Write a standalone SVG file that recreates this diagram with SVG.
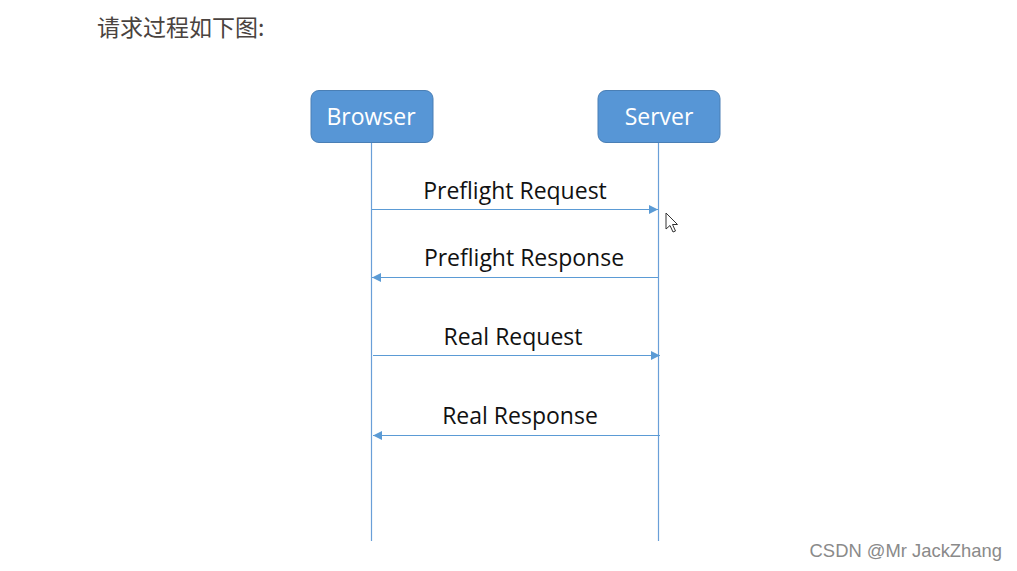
<svg xmlns="http://www.w3.org/2000/svg" width="1017" height="571" viewBox="0 0 1017 571">
<style>
.box{fill:#5796d6;stroke:#4a7fb5;stroke-width:1}
.boxt{font-family:"Open Sans","Noto Sans",sans-serif;font-size:23px;fill:#ffffff;text-anchor:middle}
.life{stroke:#6a9fd8;stroke-width:1.2;fill:none}
.msg{stroke:#5b9bd5;stroke-width:1.2;fill:none}
.lbl{font-family:"Open Sans","Noto Sans",sans-serif;font-size:23px;fill:#111111;text-anchor:middle}
</style>
<defs>
<marker id="ah" viewBox="0 0 10 10" refX="10" refY="5" markerWidth="9" markerHeight="9" markerUnits="userSpaceOnUse" orient="auto">
<path d="M0,0 L10,5 L0,10 z" fill="#5b9bd5"/>
</marker>
</defs>
<rect width="1017" height="571" fill="#ffffff"/>
<text x="97" y="36" font-family="'Noto Sans CJK SC',sans-serif" font-size="23" fill="#4a4340">请求过程如下图:</text>
<g id="browser">
<rect class="box" x="311" y="90.5" width="122" height="52" rx="8"/>
<text class="boxt" x="371" y="125">Browser</text>
</g>
<g id="server">
<rect class="box" x="598" y="90.5" width="122" height="52" rx="8"/>
<text class="boxt" x="659" y="125">Server</text>
</g>
<g id="connectors">
<line class="life" x1="371.5" y1="143" x2="371.5" y2="541"/>
<line class="life" x1="658.5" y1="143" x2="658.5" y2="541"/>
<line class="msg" x1="372" y1="209.5" x2="658" y2="209.5" marker-end="url(#ah)"/>
<line class="msg" x1="658" y1="277.5" x2="372" y2="277.5" marker-end="url(#ah)"/>
<line class="msg" x1="373" y1="355.5" x2="660" y2="355.5" marker-end="url(#ah)"/>
<line class="msg" x1="660" y1="435.5" x2="373" y2="435.5" marker-end="url(#ah)"/>
</g>
<g id="labels">
<text class="lbl" x="515" y="199">Preflight Request</text>
<text class="lbl" x="524" y="266">Preflight Response</text>
<text class="lbl" x="513" y="345">Real Request</text>
<text class="lbl" x="520" y="424">Real Response</text>
</g>
<path d="M666,213 L666,229 L670,225.5 L673,232 L675.5,231 L672.5,224.5 L677.5,224.5 Z" fill="#ffffff" stroke="#333333" stroke-width="1"/>
<text x="1002" y="557" text-anchor="end" font-family="'Liberation Sans',sans-serif" font-size="18.4" fill="#8a8a8a">CSDN @Mr JackZhang</text>
</svg>
